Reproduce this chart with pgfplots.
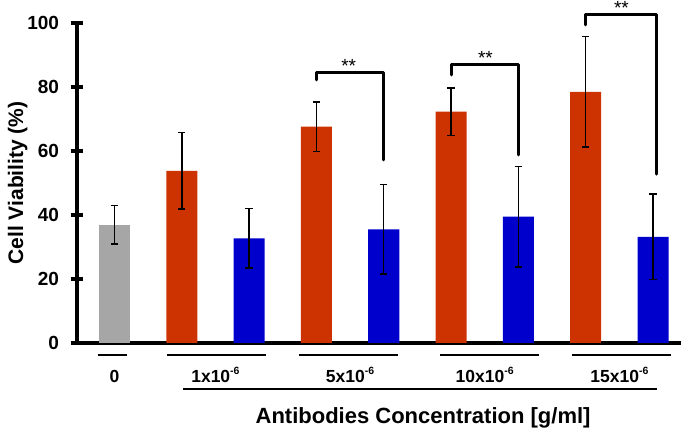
\documentclass[border=0pt]{standalone}
\usepackage{pgfplots}
\pgfplotsset{compat=1.18}
\usepackage{pgfplotstable}
\usepackage{fontspec}
\setmainfont{Liberation Sans}
\setsansfont{Liberation Sans}
\definecolor{barred}{RGB}{204,51,0}
\definecolor{barblue}{RGB}{0,0,204}
\definecolor{bargray}{RGB}{166,166,166}
\newcommand{\sexp}[1]{\raisebox{0.5em}{\fontsize{10.5}{10.5}\selectfont #1}}

\pgfplotstableread{
x y e
0 36.9 6.0
}\graydata
\pgfplotstableread{
x y e
1 53.8 12.0
3 67.6 7.7
5 72.3 7.4
7 78.5 17.3
}\reddata
\pgfplotstableread{
x y e
2 32.7 9.3
4 35.5 14.0
6 39.5 15.7
8 33.2 13.4
}\bluedata

\begin{document}
\begin{tikzpicture}
\begin{axis}[
  name=ax,
  scale only axis, width=604pt, height=320pt,
  xmin=-0.556, xmax=8.415, ymin=0, ymax=100,
  axis x line*=bottom, axis y line*=left,
  axis line style={line width=3.2pt, -},
  clip=false,
  ytick={0,20,40,60,80,100},
  yticklabels={0,20,40,60,80,100},
  xtick={0,1.5,3.5,5.5,7.5},
  xticklabels={{0},{1x10\sexp{-6}},{5x10\sexp{-6}},{10x10\sexp{-6}},{15x10\sexp{-6}}},
  x tick style={draw=none},
  y tick style={line width=4pt, black},
  major tick style={line width=4pt, black},
  tick align=center, major tick length=11.5pt,
  yticklabel style={font=\fontsize{19}{20}\selectfont\bfseries, anchor=east, inner sep=0pt, xshift=-12pt},
  xticklabel style={font=\fontsize{17.5}{19}\selectfont\bfseries, anchor=base, inner sep=0pt, yshift=-34pt},
  every axis y label/.style={at={(axis description cs:-0.098,0.5)}, rotate=90, anchor=center, font=\fontsize{21}{22}\selectfont\bfseries},
  every axis x label/.style={at={(axis description cs:0.573,-0.253)}, anchor=base, font=\fontsize{22}{24}\selectfont\bfseries},
  ylabel={Cell Viability (\%)},
  xlabel={Antibodies Concentration [g/ml]},
  error bars/error bar style={line width=1.5pt, black},
  error bars/error mark options={rotate=90, mark size=3.7pt, line width=1.5pt, black},
]
\addplot[ybar, bar width=31pt, fill=bargray, draw=none,
  error bars/.cd, y dir=both, y explicit]
  table[x=x, y=y, y error=e] {\graydata};
\addplot[ybar, bar width=31pt, fill=barred, draw=none,
  error bars/.cd, y dir=both, y explicit]
  table[x=x, y=y, y error=e] {\reddata};
\addplot[ybar, bar width=31pt, fill=barblue, draw=none,
  error bars/.cd, y dir=both, y explicit]
  table[x=x, y=y, y error=e] {\bluedata};

% significance brackets
\draw[line width=3pt, line cap=round, line join=round] (axis cs:3,82.2) -- (axis cs:3,84.6) -- (axis cs:4,84.6) -- (axis cs:4,57.2);
\draw[line width=3pt, line cap=round, line join=round] (axis cs:5,83.75) -- (axis cs:5,86.9) -- (axis cs:6,86.9) -- (axis cs:6,58.75);
\draw[line width=3pt, line cap=round, line join=round] (axis cs:7,99.4) -- (axis cs:7,102.5) -- (axis cs:8.05,102.5) -- (axis cs:8.05,52.8);
\node[anchor=base, inner sep=0pt, yshift=0pt, font=\fontsize{19}{19}\selectfont] at (axis cs:3.48,84.6) {**};
\node[anchor=base, inner sep=0pt, yshift=0pt, font=\fontsize{19}{19}\selectfont] at (axis cs:5.51,86.9) {**};
\node[anchor=base, inner sep=0pt, yshift=0pt, font=\fontsize{19}{19}\selectfont] at (axis cs:7.53,102.5) {**};

% group underlines
\draw[line width=2.7pt] (axis cs:-0.25,-3.75) -- (axis cs:0.19,-3.75);
\draw[line width=2.7pt] (axis cs:0.775,-3.75) -- (axis cs:2.258,-3.75);
\draw[line width=2.7pt] (axis cs:2.737,-3.75) -- (axis cs:4.206,-3.75);
\draw[line width=2.7pt] (axis cs:4.84,-3.75) -- (axis cs:6.30,-3.75);
\draw[line width=2.7pt] (axis cs:6.80,-3.75) -- (axis cs:8.27,-3.75);
\draw[line width=2.7pt] (axis cs:1.02,-14.375) -- (axis cs:8.06,-14.375);
\end{axis}
\pgfresetboundingbox
\path[use as bounding box] ([xshift=-77pt,yshift=-90pt]ax.south west) rectangle ([xshift=4pt,yshift=23pt]ax.north east);
\end{tikzpicture}
\end{document}
